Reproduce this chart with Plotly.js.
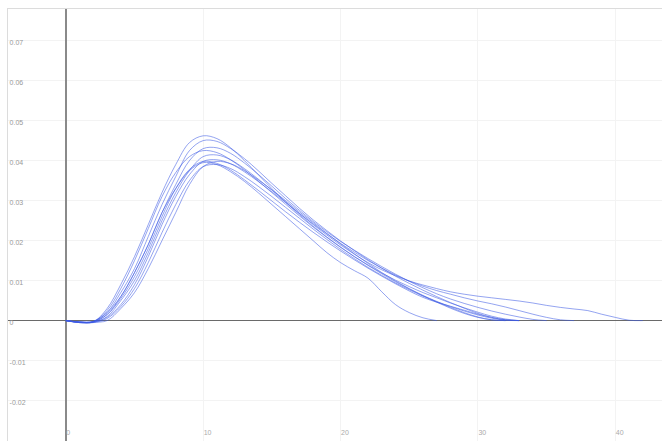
<!DOCTYPE html>
<html>
<head>
<meta charset="utf-8">
<script src="https://cdn.plot.ly/plotly-3.0.1.min.js"></script>
<style>html,body{margin:0;padding:0;background:#fff;}#chart{width:662px;height:441px;}</style>
</head>
<body>
<div id="chart"></div>
<script>
// x positions shared by all series
const xs = [0,1,2,3,4,5,6,7,8,9,10,11,12,13,14,15,16,17,18,19,20,21,22,23,24,25,26,27,28,29,30,31,32,33,34,35,36,37,38,39,40,41,42];

const seriesA = [0,-0.0005,-0.0003,0.003,0.009,0.016,0.024,0.032,0.039,0.0445,0.0462,0.0455,0.0432,0.0400,0.0365,0.0330,0.0296,0.0265,0.0236,0.0209,0.0184,0.0160,0.0138,0.0117,0.0097,0.0079,0.0062,0.0046,0.0031,0.0018,0.0008,0.0002,0];
const seriesB = [0,-0.0004,-0.0002,0.002,0.007,0.013,0.021,0.029,0.036,0.0425,0.0450,0.0448,0.0430,0.0405,0.0375,0.0343,0.0312,0.0281,0.0252,0.0225,0.0199,0.0175,0.0152,0.0131,0.0111,0.0093,0.0076,0.0060,0.0045,0.0031,0.0018,0.0008,0.0002,0];
const seriesC = [0,-0.0003,-0.0003,0.0015,0.006,0.012,0.019,0.027,0.034,0.040,0.0430,0.0432,0.0418,0.0394,0.0366,0.0336,0.0305,0.0276,0.0248,0.0222,0.0198,0.0176,0.0155,0.0135,0.0116,0.0098,0.0082,0.0067,0.0054,0.0043,0.0033,0.0024,0.0016,0.0009,0.0003,0];
const seriesD = [0,-0.0004,-0.0004,0.001,0.005,0.010,0.017,0.025,0.032,0.0375,0.0410,0.0414,0.0402,0.0380,0.0354,0.0326,0.0297,0.0268,0.0240,0.0214,0.0189,0.0166,0.0145,0.0127,0.0112,0.0099,0.0089,0.0080,0.0072,0.0066,0.0061,0.0057,0.0053,0.0049,0.0044,0.0038,0.0033,0.0029,0.0025,0.0016,0.0008,0.0001,0];
const seriesE = [0,-0.0005,-0.0004,0.0008,0.004,0.009,0.016,0.024,0.031,0.0365,0.0398,0.0402,0.0392,0.0372,0.0348,0.0322,0.0295,0.0268,0.0242,0.0217,0.0193,0.0171,0.0150,0.0131,0.0114,0.0099,0.0086,0.0075,0.0066,0.0057,0.0049,0.0042,0.0034,0.0025,0.0016,0.0008,0.0002,0];
const seriesF = [0,-0.0004,-0.0003,0.002,0.006,0.012,0.019,0.027,0.033,0.0375,0.0395,0.0390,0.0372,0.0348,0.0320,0.0290,0.0260,0.0230,0.0200,0.0170,0.0145,0.0125,0.0106,0.0072,0.0040,0.0020,0.0007,0];
const seriesG = [0,-0.0003,-0.0004,0,0.003,0.007,0.013,0.020,0.027,0.034,0.0385,0.0398,0.0392,0.0375,0.0352,0.0327,0.0300,0.0272,0.0245,0.0218,0.0192,0.0167,0.0143,0.0120,0.0099,0.0080,0.0063,0.0048,0.0035,0.0024,0.0014,0.0006,0.0001,0];
const seriesH = [0,-0.0005,-0.0005,0.0005,0.0035,0.008,0.0145,0.022,0.029,0.035,0.0385,0.0390,0.0380,0.0360,0.0336,0.0310,0.0283,0.0256,0.0229,0.0203,0.0178,0.0155,0.0133,0.0113,0.0094,0.0077,0.0061,0.0047,0.0033,0.0020,0.0009,0.0002,0];
const seriesI = [0,-0.0004,-0.0002,0.0025,0.008,0.015,0.023,0.031,0.037,0.041,0.0425,0.0420,0.0402,0.0377,0.0349,0.0320,0.0291,0.0262,0.0234,0.0208,0.0183,0.0160,0.0139,0.0119,0.0101,0.0085,0.0070,0.0057,0.0044,0.0032,0.0021,0.0011,0.0004,0];
const seriesJ = [0,-0.0004,-0.0003,0.0015,0.0055,0.011,0.018,0.026,0.033,0.0378,0.0398,0.0393,0.0376,0.0352,0.0326,0.0299,0.0272,0.0246,0.0221,0.0197,0.0174,0.0152,0.0131,0.0111,0.0092,0.0074,0.0058,0.0046,0.0036,0.0026,0.0016,0.0008,0.0002,0];

const allSeries = [seriesA, seriesB, seriesC, seriesD, seriesE, seriesF, seriesG, seriesH, seriesI, seriesJ];

const xTickVals = [0,10,20,30,40];
const xTickText = ['0','10','20','30','40'];
const yTickVals = [-0.02,-0.01,0,0.01,0.02,0.03,0.04,0.05,0.06,0.07];
const yTickText = ['-0.02','-0.01','0','0.01','0.02','0.03','0.04','0.05','0.06','0.07'];

const traces = allSeries.map(s => ({
  type: 'scatter',
  mode: 'lines',
  x: xs.slice(0, s.length),
  y: s,
  line: {color: 'rgba(60,90,228,0.55)', width: 1, shape: 'spline', smoothing: 1},
  hoverinfo: 'skip'
}));

const layout = {
  width: 662, height: 441,
  margin: {l: 8, r: 0, t: 9, b: 0, pad: 0},
  paper_bgcolor: '#fff', plot_bgcolor: '#fff',
  showlegend: false,
  font: {family: 'Arial, "Liberation Sans", sans-serif', size: 7, color: '#999'},
  xaxis: {
    range: [-4.21, 43.4],
    tickvals: xTickVals, ticktext: xTickText,
    ticklabelposition: 'inside right',
    showgrid: true, gridcolor: '#f3f3f3', gridwidth: 1,
    zeroline: true, zerolinecolor: '#8a8a8a', zerolinewidth: 1.5,
    showline: true, mirror: true, linecolor: '#dcdcdc', linewidth: 1,
    ticks: '', fixedrange: true,
    tickfont: {size: 7, color: '#aaa'}
  },
  yaxis: {
    range: [-0.0301, 0.0779],
    tickvals: yTickVals, ticktext: yTickText,
    ticklabelposition: 'inside',
    ticklabelshift: 2,
    showgrid: true, gridcolor: '#f3f3f3', gridwidth: 1,
    zeroline: true, zerolinecolor: '#6a6a6a', zerolinewidth: 1,
    showline: true, mirror: true, linecolor: '#dcdcdc', linewidth: 1,
    ticks: '', fixedrange: true,
    tickfont: {size: 7, color: '#999'}
  }
};

Plotly.newPlot('chart', traces, layout, {displayModeBar: false, staticPlot: true});
</script>
</body>
</html>
